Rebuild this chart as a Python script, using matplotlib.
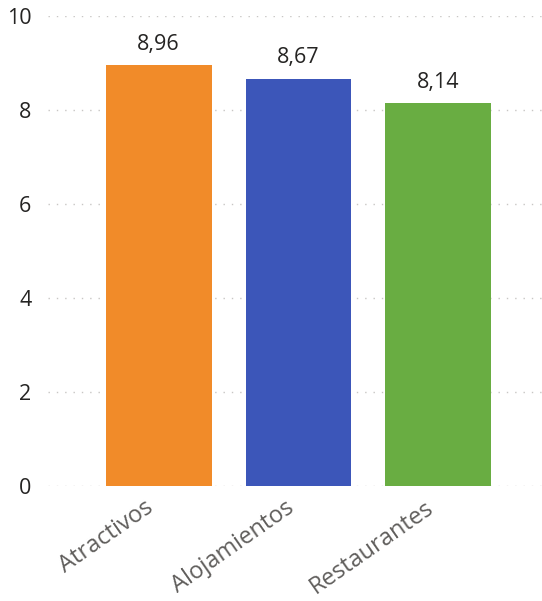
import matplotlib.pyplot as plt
from matplotlib.transforms import ScaledTranslation

# datos
categorias = ["Atractivos", "Alojamientos", "Restaurantes"]
valores = [8.96, 8.67, 8.14]
colores = ["#F18B29", "#3C56B9", "#69AD42"]
marcas_y = [0, 2, 4, 6, 8, 10]

plt.rcParams['font.family'] = ['Open Sans', 'DejaVu Sans']

fig = plt.figure(figsize=(5.42, 6.01), dpi=100)
ax = fig.add_axes([48/542, 115/601, 494/542, 470/601])

x = range(len(categorias))
barras = ax.bar(x, valores, width=0.757, color=colores, zorder=2)

# etiquetas de valor con coma decimal
for b, v in zip(barras, valores):
    ax.text(b.get_x() + b.get_width()/2, v + 0.22, f"{v:.2f}".replace(".", ","),
            ha='center', va='bottom', fontsize=15.5, color='#252423')

ax.set_xlim(-0.79, 2.74)
ax.set_ylim(0, 10)
ax.set_yticks(marcas_y)
ax.set_yticklabels([str(m) for m in marcas_y], fontsize=15.5, color='#252423')
ax.set_xticks(list(x))
ax.set_xticklabels(categorias, rotation=35, ha='right', rotation_mode='anchor',
                   fontsize=17, color='#605E5C')
ax.tick_params(axis='both', length=0)
ax.tick_params(axis='y', pad=12)
ax.tick_params(axis='x', pad=7)

# desplazar etiquetas del eje x hacia la izquierda
desplaza = ScaledTranslation(-14/100, 0, fig.dpi_scale_trans)
for t in ax.get_xticklabels():
    t.set_transform(t.get_transform() + desplaza)

ax.grid(axis='y', color='#C8C6C4', linestyle=(0, (1, 5)), linewidth=1, zorder=0)
for s in ax.spines.values():
    s.set_visible(False)

fig.savefig("out.png", dpi=100)
